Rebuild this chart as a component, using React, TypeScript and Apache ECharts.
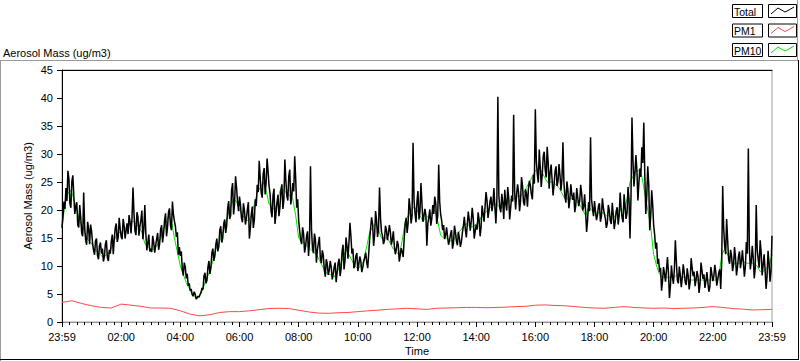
import React, { useEffect, useRef } from "react";
import * as echarts from "echarts";

const FONT = "'Liberation Sans', Arial, sans-serif";

const Y_TITLE = "Aerosol Mass (ug/m3)";
const X_TITLE = "Time";
const SERIES_NAMES = ["Total", "PM1", "PM10"];
const SERIES_COLORS = ["#000000", "#ff4848", "#00e600"];
const X_TICK_LABELS = ["23:59", "02:00", "04:00", "06:00", "08:00", "10:00", "12:00", "14:00", "16:00", "18:00", "20:00", "22:00", "23:59"];
const Y_MAX = 45;
const Y_STEP = 5;
const HOURS = 24;

// Total, one reading every 2 minutes from 23:59 (one row per hour)
const TOTAL_STEP_MIN = 2;
const TOTAL = [
  16.8, 18.9, 21.5, 20.2, 23.9, 21.6, 27.0, 25.6, 21.2, 20.4, 25.1, 26.2, 22.4, 19.3, 20.6, 21.4, 17.3, 16.9, 20.9, 18.6, 15.8, 15.3, 23.1, 16.8, 14.6, 13.8, 17.9, 16.6, 13.9, 17.4,
  16.2, 14.1, 12.8, 12.0, 14.5, 14.9, 11.9, 11.2, 13.6, 14.2, 12.2, 13.1, 10.8, 11.7, 13.9, 14.6, 11.5, 10.9, 12.9, 12.2, 14.4, 15.6, 12.1, 14.8, 16.8, 17.6, 14.3, 15.1, 18.6, 16.7,
  15.2, 14.8, 18.4, 17.2, 14.9, 16.3, 17.6, 15.7, 19.1, 17.9, 15.8, 18.6, 24.0, 19.4, 16.3, 15.5, 19.6, 18.8, 15.4, 17.1, 18.2, 19.9, 14.8, 16.5, 20.9, 15.9, 12.8, 14.1, 15.6, 12.6,
  13.1, 12.5, 15.4, 14.2, 12.4, 13.7, 14.8, 15.9, 12.9, 14.0, 16.5, 17.3, 14.2, 15.8, 18.1, 19.4, 15.3, 16.9, 19.6, 20.3, 17.2, 16.4, 21.5, 19.2, 18.0, 17.1, 15.2, 16.0, 12.0, 13.4,
  11.8, 12.6, 9.4, 8.3, 10.6, 9.9, 7.8, 8.6, 6.5, 6.9, 5.6, 5.9, 4.9, 4.6, 5.4, 5.0, 4.1, 4.3, 4.6, 4.4, 4.9, 5.3, 6.1, 5.8, 8.2, 8.8, 6.9, 7.4, 9.8, 10.9,
  8.6, 9.7, 12.4, 13.1, 10.9, 11.8, 13.8, 14.9, 12.6, 13.4, 16.4, 17.1, 14.2, 15.0, 17.5, 18.3, 15.9, 17.2, 20.3, 21.6, 18.4, 19.0, 23.6, 24.8, 19.2, 21.1, 26.0, 24.0, 21.5, 19.8,
  22.4, 20.9, 18.6, 17.8, 21.2, 19.9, 17.4, 18.5, 20.1, 21.4, 14.9, 16.7, 19.3, 20.6, 16.8, 18.1, 21.9, 20.7, 24.5, 23.2, 28.8, 25.7, 23.1, 22.2, 26.4, 27.5, 22.8, 24.9, 29.2, 26.8,
  24.2, 22.9, 19.8, 18.7, 22.6, 23.8, 17.5, 19.4, 21.3, 22.7, 18.9, 20.5, 23.4, 24.6, 20.2, 21.8, 29.0, 25.3, 22.5, 21.7, 26.1, 27.2, 21.0, 22.4, 24.8, 23.3, 29.6, 25.5, 20.4, 21.9,
  18.2, 16.3, 14.6, 13.9, 16.9, 15.7, 12.4, 13.5, 15.3, 16.2, 11.8, 14.4, 27.8, 16.6, 13.2, 12.3, 15.8, 14.7, 10.6, 12.9, 14.1, 15.2, 11.4, 10.5, 12.8, 11.9, 9.3, 8.1, 11.2, 10.4,
  8.4, 9.2, 10.9, 9.9, 7.6, 8.5, 9.8, 10.6, 7.1, 8.8, 10.5, 11.3, 8.2, 9.5, 12.6, 13.8, 9.4, 11.0, 15.1, 13.6, 11.3, 14.2, 17.7, 15.3, 12.2, 13.1, 9.6, 10.2, 11.8, 12.3,
  9.1, 10.3, 11.7, 10.9, 8.9, 9.7, 10.8, 11.5, 12.4, 10.7, 9.6, 12.1, 14.8, 16.9, 18.7, 17.4, 13.6, 15.5, 19.8, 18.1, 15.2, 16.6, 24.0, 18.5, 16.1, 15.4, 13.9, 14.6, 17.2, 16.4,
  14.6, 15.8, 17.3, 16.1, 13.8, 14.7, 16.2, 13.6, 12.1, 12.9, 14.5, 13.7, 10.8, 11.9, 13.2, 12.5, 11.6, 14.8, 17.4, 18.6, 15.9, 17.7, 22.1, 20.4, 17.6, 18.9, 32.0, 21.7, 19.4, 17.8,
  21.6, 23.4, 18.3, 19.7, 24.8, 21.3, 17.9, 18.8, 20.2, 19.1, 13.6, 17.6, 18.7, 20.1, 17.2, 18.4, 20.9, 19.3, 22.4, 21.2, 17.5, 18.9, 28.1, 21.5, 19.2, 18.1, 16.4, 17.3, 14.8, 15.5,
  16.9, 15.2, 13.8, 14.6, 15.7, 16.4, 13.1, 14.1, 17.2, 16.0, 14.4, 13.7, 16.1, 15.0, 13.4, 14.3, 15.9, 17.1, 18.8, 16.6, 15.1, 17.4, 19.7, 18.2, 16.3, 17.9, 20.4, 18.6, 14.9, 16.2,
  17.4, 16.5, 19.6, 18.2, 15.3, 17.0, 20.8, 19.3, 17.9, 20.6, 23.2, 21.7, 18.6, 19.9, 21.5, 22.4, 19.8, 21.1, 23.9, 20.5, 17.6, 21.8, 40.2, 22.6, 20.3, 19.6, 22.9, 21.3, 18.4, 23.6,
  21.2, 19.9, 24.1, 22.2, 18.3, 20.4, 22.6, 21.5, 37.0, 23.3, 20.1, 22.7, 24.6, 23.1, 19.8, 21.6, 25.9, 24.3, 21.4, 20.8, 23.7, 22.9, 20.6, 23.8, 25.2, 24.4, 22.8, 21.9, 26.3, 24.7,
  38.0, 28.7, 26.4, 24.9, 30.8, 27.6, 24.1, 26.3, 29.6, 30.4, 27.2, 25.8, 31.3, 28.5, 23.8, 26.7, 28.1, 25.4, 22.6, 24.5, 26.9, 27.8, 24.3, 25.1, 28.2, 26.2, 23.5, 25.6, 32.1, 24.8,
  22.4, 21.3, 25.1, 23.6, 20.3, 21.9, 24.6, 22.7, 21.8, 23.1, 19.6, 20.8, 23.9, 22.2, 20.7, 21.6, 24.5, 22.9, 19.9, 20.6, 22.8, 19.5, 16.1, 18.2, 21.4, 19.8, 33.0, 21.9, 20.2, 18.9,
  21.6, 19.7, 18.2, 19.1, 20.7, 21.2, 17.9, 18.8, 22.1, 20.4, 19.3, 18.5, 16.8, 17.6, 20.9, 19.9, 18.1, 17.5, 21.3, 19.2, 16.6, 17.9, 19.8, 20.5, 17.4, 19.0, 23.1, 20.3, 18.6, 17.8,
  22.8, 20.6, 18.4, 19.5, 24.1, 21.8, 14.9, 22.3, 36.5, 28.9, 24.2, 26.6, 29.8, 27.1, 21.7, 24.8, 27.4, 25.9, 31.2, 28.4, 35.6, 26.2, 19.3, 22.6, 27.8, 24.7, 16.4, 18.9, 23.5, 21.0,
  17.2, 15.6, 13.1, 14.2, 10.4, 11.3, 8.9, 9.7, 5.6, 7.4, 9.8, 8.6, 7.2, 9.3, 11.6, 8.7, 4.3, 6.5, 10.1, 8.1, 6.8, 9.4, 14.6, 10.8, 7.5, 6.9, 9.9, 8.4, 6.2, 7.9,
  10.3, 8.8, 7.1, 6.6, 9.6, 8.3, 5.8, 7.2, 11.4, 9.7, 8.2, 9.0, 6.4, 7.5, 9.1, 8.1, 5.2, 6.7, 10.6, 9.2, 7.7, 8.5, 6.1, 7.3, 8.9, 7.0, 5.4, 6.3, 9.8, 8.6,
  7.3, 8.1, 10.2, 8.9, 6.5, 7.6, 8.8, 9.4, 5.9, 10.7, 24.3, 16.8, 13.6, 12.1, 18.4, 14.7, 11.2, 10.4, 12.9, 11.8, 9.1, 10.2, 13.4, 11.5, 8.3, 9.8, 11.7, 12.6, 9.6, 10.9,
  12.8, 10.6, 8.1, 9.9, 14.3, 12.2, 31.0, 13.5, 9.4, 10.8, 13.6, 11.4, 7.8, 9.6, 20.9, 12.9, 11.2, 9.7, 14.6, 12.4, 8.3, 10.1, 12.1, 9.3, 5.9, 8.2, 12.7, 10.5, 7.2, 9.1,
  15.4,
];

// PM10, one reading every 6 minutes (one row per hour)
const PM10_STEP_MIN = 6;
const PM10 = [
  17, 21, 23, 23.5, 22, 20, 18, 17, 15.5, 14.5,
  14, 13, 12.5, 12, 11.5, 12, 12.5, 13.5, 15, 16,
  16, 16.5, 17, 17.5, 18, 17.5, 17, 16, 14, 13.5,
  13, 13, 13.5, 14.5, 16, 17.5, 19, 18, 15, 12.5,
  10, 8.5, 7, 6, 5, 4.5, 4.5, 5, 6.5, 8,
  9, 11, 13, 14, 15.5, 17, 19, 20.5, 22, 21.5,
  20, 19, 18.5, 18, 19, 21, 23, 24, 25, 23.5,
  21, 20.5, 20, 22, 24, 23.5, 23, 22.5, 22, 19,
  15, 14.5, 14, 13.5, 13, 12.5, 12, 11, 10, 9,
  8.5, 8.5, 8, 9, 10, 11.5, 13, 12, 11, 10,
  9.5, 10, 11, 13.5, 16, 17, 17.5, 16.5, 15, 15,
  15, 14, 13, 12.5, 12, 14.5, 18, 19, 20, 20.5,
  20, 19, 18, 18.5, 19, 19.5, 20, 18, 15.5, 15,
  15, 14.5, 14.5, 15, 16, 16.5, 17.5, 17.5, 17, 17,
  17.5, 18, 19, 19.5, 20, 20.5, 21, 21, 20.5, 20.5,
  21, 21.5, 22, 22, 22.5, 22.5, 23, 24, 25, 26,
  27, 27.5, 27, 26, 25, 25, 25, 24.5, 24, 23,
  22, 22, 22, 22, 21.5, 21, 20, 19, 20.5, 20,
  19.5, 19.5, 19.5, 19.5, 19, 19, 18.5, 19, 20, 20,
  20, 22, 25, 26, 27, 27, 26, 23, 20, 17,
  12, 10, 8.5, 8, 8, 8, 8, 8, 8.5, 8,
  8, 8, 7.5, 7.5, 7.5, 7.5, 7.5, 7.5, 7.5, 7.5,
  7.5, 7.5, 8, 12, 13, 12, 11, 10.5, 10.5, 10.5,
  11, 10.5, 10.5, 10.5, 10.5, 10, 9, 9, 9.5, 10,
  12,
];

// PM1, one reading every 20 minutes (one row per hour)
const PM1_STEP_MIN = 20;
const PM1 = [
  3.5, 3.8, 3.3,
  2.9, 2.6, 2.5,
  3.2, 3.0, 2.8,
  2.5, 2.5, 2.45,
  2.0, 1.4, 1.1,
  1.3, 1.7, 1.85,
  1.85, 2.0, 2.2,
  2.4, 2.45, 2.4,
  2.1, 1.8, 1.6,
  1.55, 1.65, 1.7,
  1.85, 2.0, 2.1,
  2.25, 2.35, 2.45,
  2.35, 2.25, 2.45,
  2.5, 2.55, 2.6,
  2.6, 2.55, 2.6,
  2.65, 2.75, 2.8,
  3.0, 3.05, 2.95,
  2.9, 2.75, 2.6,
  2.5, 2.45, 2.6,
  2.75, 2.6, 2.5,
  2.45, 2.5, 2.4,
  2.45, 2.5, 2.6,
  2.75, 2.6, 2.4,
  2.3, 2.15, 2.2,
  2.25,
];

const toPairs = (arr: number[], stepMin: number) => arr.map((v, i) => [(i * stepMin) / 60, v]);

export default function App() {
  const ref = useRef<HTMLDivElement>(null);

  useEffect(() => {
    if (!ref.current) return;
    const chart = echarts.init(ref.current, null, { renderer: "svg" });

    const legendEls: any[] = [];
    SERIES_NAMES.forEach((name, i) => {
      const y = 4 + i * 19.5;
      const c = SERIES_COLORS[i];
      legendEls.push(
        { type: "rect", shape: { x: 732.5, y: y + 0.5, width: 30, height: 13 }, style: { fill: "#fff", stroke: "#000", lineWidth: 1 } },
        { type: "text", x: 734, y: y + 7.5, style: { text: name, fontSize: 10.5, fontFamily: FONT, fill: "#000", verticalAlign: "middle" } },
        { type: "rect", shape: { x: 768.5, y: y + 0.5, width: 28, height: 13 }, style: { fill: "#fff", stroke: "#000", lineWidth: 1 } },
        {
          type: "polyline",
          shape: { points: [[771, y + 10], [778, y + 4], [785, y + 8], [789, y + 6], [794, y + 3]] },
          style: { stroke: c, fill: null, lineWidth: 1 },
        }
      );
    });

    const frameEls: any[] = [
      { type: "line", shape: { x1: 0, y1: 60.5, x2: 798, y2: 60.5 }, style: { stroke: "#9a9a9a", lineWidth: 1 } },
      { type: "line", shape: { x1: 0.5, y1: 60.5, x2: 0.5, y2: 361 }, style: { stroke: "#9a9a9a", lineWidth: 1 } },
      { type: "line", shape: { x1: 0, y1: 359.5, x2: 799, y2: 359.5 }, style: { stroke: "#000", lineWidth: 1 } },
      { type: "line", shape: { x1: 798.5, y1: 60, x2: 798.5, y2: 360 }, style: { stroke: "#000", lineWidth: 1 } },
      { type: "line", shape: { x1: 797.5, y1: 0, x2: 797.5, y2: 60 }, style: { stroke: "#9a9a9a", lineWidth: 1 } },
    ];

    const axisText = { fontSize: 11, fontFamily: FONT, color: "#000" };

    chart.setOption({
      animation: false,
      backgroundColor: "#ffffff",
      title: {
        text: Y_TITLE,
        left: 3,
        top: 47,
        padding: 0,
        textStyle: { fontSize: 11, fontWeight: "normal", fontFamily: FONT, color: "#000" },
      },
      grid: {
        left: 62,
        right: 28,
        top: 70,
        bottom: 39,
        show: true,
        borderColor: "#a0a0a0",
        borderWidth: 1,
        backgroundColor: "#ffffff",
      },
      xAxis: [
        {
          type: "value",
          min: 0,
          max: HOURS,
          interval: 2,
          name: X_TITLE,
          nameLocation: "middle",
          nameGap: 23,
          nameMoveOverlap: false,
          nameTextStyle: axisText,
          axisLine: { show: true, lineStyle: { color: "#909090", width: 1 } },
          axisTick: { show: true, inside: false, length: 5, lineStyle: { color: "#000", width: 1 } },
          minorTick: { show: true, splitNumber: 8, length: 3, lineStyle: { color: "#000", width: 1 } },
          splitLine: { show: false },
          axisLabel: {
            ...axisText,
            margin: 9,
            showMinLabel: true,
            showMaxLabel: true,
            formatter: (v: number) => X_TICK_LABELS[Math.round(v / 2)] ?? "",
          },
        },
        {
          type: "value",
          position: "top",
          min: 0,
          max: HOURS,
          axisLine: { show: true, lineStyle: { color: "#000", width: 1 } },
          axisTick: { show: false },
          axisLabel: { show: false },
          splitLine: { show: false },
        },
      ],
      yAxis: {
        type: "value",
        min: 0,
        max: Y_MAX,
        interval: Y_STEP,
        name: Y_TITLE,
        nameLocation: "middle",
        nameGap: 29,
        nameMoveOverlap: false,
        nameRotate: 90,
        nameTextStyle: axisText,
        axisLine: { show: true, lineStyle: { color: "#000", width: 1 } },
        axisTick: { show: true, inside: false, length: 5, lineStyle: { color: "#000", width: 1 } },
        splitLine: { show: false },
        axisLabel: { ...axisText, margin: 9 },
      },
      series: [
        {
          name: SERIES_NAMES[1],
          type: "line",
          xAxisIndex: 0,
          data: toPairs(PM1, PM1_STEP_MIN),
          showSymbol: false,
          lineStyle: { color: SERIES_COLORS[1], width: 1 },
          itemStyle: { color: SERIES_COLORS[1] },
          z: 2,
        },
        {
          name: SERIES_NAMES[2],
          type: "line",
          xAxisIndex: 0,
          data: toPairs(PM10, PM10_STEP_MIN),
          showSymbol: false,
          lineStyle: { color: SERIES_COLORS[2], width: 1 },
          itemStyle: { color: SERIES_COLORS[2] },
          z: 3,
        },
        {
          name: SERIES_NAMES[0],
          type: "line",
          xAxisIndex: 0,
          data: toPairs(TOTAL, TOTAL_STEP_MIN),
          showSymbol: false,
          lineStyle: { color: SERIES_COLORS[0], width: 1.5 },
          itemStyle: { color: SERIES_COLORS[0] },
          z: 4,
        },
      ],
      graphic: [...frameEls, ...legendEls],
    });

    return () => chart.dispose();
  }, []);

  return (
    <div
      ref={ref}
      style={{ position: "absolute", left: 0, top: 0, width: 800, height: 361, background: "#fff" }}
    />
  );
}
